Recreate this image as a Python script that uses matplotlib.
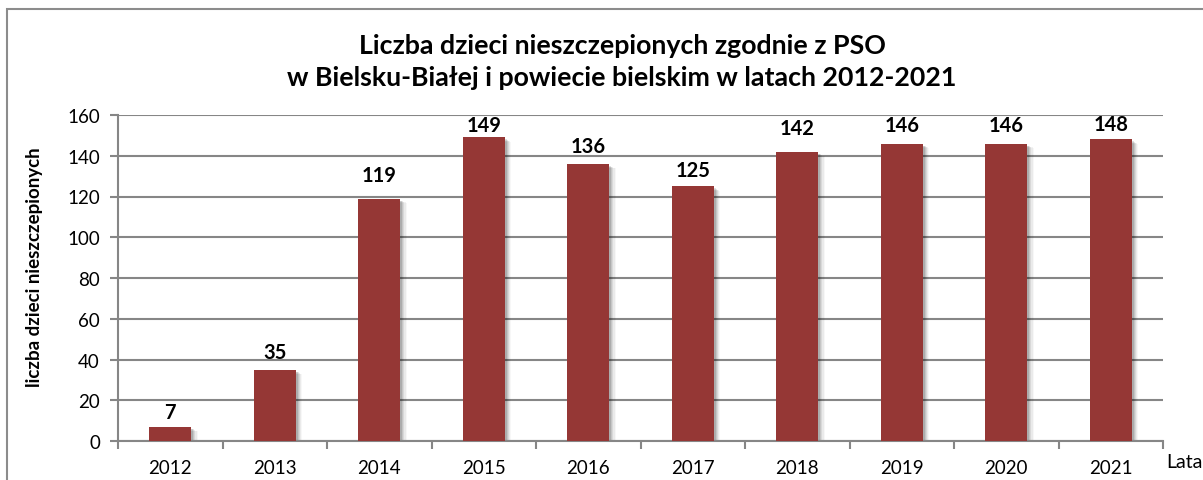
import matplotlib
matplotlib.use("Agg")
import matplotlib.pyplot as plt
from matplotlib.patches import Rectangle
import numpy as np

years = ["2012", "2013", "2014", "2015", "2016", "2017", "2018", "2019", "2020", "2021"]
values = [7, 35, 119, 149, 136, 125, 142, 146, 146, 148]
title = "Liczba dzieci nieszczepionych zgodnie z PSO\nw Bielsku-Białej i powiecie bielskim w latach 2012-2021"
ylabel = "liczba dzieci nieszczepionych"
xlabel = "Lata"

# label offsets above bar tops (pixels) - layout only
label_offsets = [15, 18, 24, 12, 18, 16, 24, 19, 19, 15]

plt.rcParams['font.family'] = ['Lato', 'DejaVu Sans']

W, H = 1203, 481
fig = plt.figure(figsize=(W / 100, H / 100), dpi=100)

# outer border
fig.patches.append(Rectangle((7 / W, -0.1), 1.2, 1 - 10 / H + 0.1, transform=fig.transFigure,
                             fill=False, edgecolor="#8c8c8c", linewidth=1.5))

left, right, top, bottom = 118, 1163, 116, 442
ax = fig.add_axes([left / W, 1 - bottom / H, (right - left) / W, (bottom - top) / H])

x = np.arange(len(years))
bw = 0.4
gray = "#868686"

ax.set_xlim(-0.5, len(years) - 0.5)
ax.set_ylim(0, 160)
ax.set_yticks(range(0, 161, 20))
ax.yaxis.grid(True, color=gray, linewidth=1.5)
ax.set_axisbelow(True)

# soft shadow
for i, a in enumerate([0.12, 0.09, 0.07, 0.05, 0.03]):
    off = 0.011 * (i + 1)
    ax.bar(x + off + 0.008, values, bw, bottom=-1.0 - i * 0.3, color="black", alpha=a, zorder=2, linewidth=0)
ax.bar(x, values, bw, color="#953735", zorder=3, linewidth=0)

for xi, v, off in zip(x, values, label_offsets):
    ax.annotate(str(v), (xi, v), xytext=(0, off), textcoords="offset pixels",
                ha="center", va="center", fontsize=14.5, fontweight="bold", color="black",
                annotation_clip=False)

for s in ["top", "right"]:
    ax.spines[s].set_visible(False)
ax.spines["left"].set_color(gray)
ax.spines["left"].set_linewidth(1.5)
ax.spines["bottom"].set_color(gray)
ax.spines["bottom"].set_linewidth(1.5)

ax.set_xticks(x)
ax.set_xticklabels(years, fontsize=13.5)
ax.set_xticks(np.arange(-0.5, len(years), 1.0), minor=True)
ax.tick_params(axis="x", which="major", length=0, pad=13)
ax.tick_params(axis="x", which="minor", length=6, width=1.5, color=gray)
ax.tick_params(axis="y", length=6, width=1.5, color=gray, labelsize=13.5, pad=7)

ax.set_ylabel(ylabel, fontsize=13.5, fontweight="bold")
ax.yaxis.set_label_coords((43 - left) / (right - left), (bottom - 267) / (bottom - top))
fig.text(1166 / W, 1 - 463 / H, xlabel, fontsize=14, ha="left", va="center")

fig.text(622 / W, 1 - 62 / H, title, ha="center", va="center",
         fontsize=19.3, fontweight="bold", linespacing=1.35)

fig.savefig("out.png", dpi=100)
